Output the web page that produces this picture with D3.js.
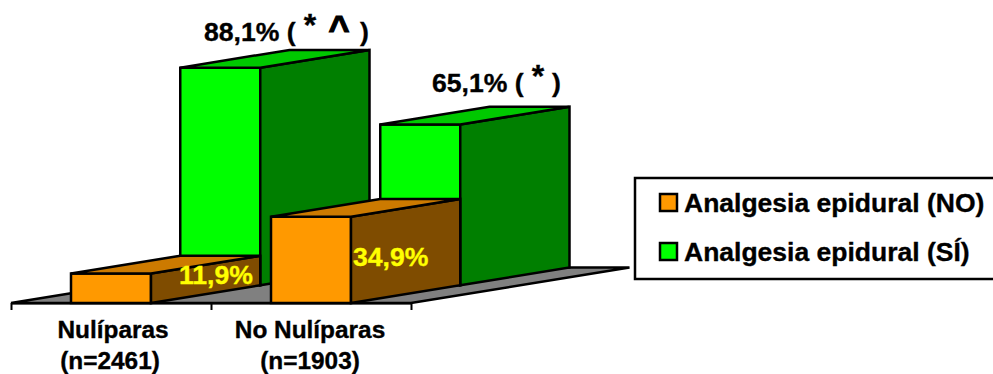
<!DOCTYPE html>
<html lang="es">
<head>
<meta charset="utf-8">
<script src="https://cdn.jsdelivr.net/npm/d3@7/dist/d3.min.js"></script>
<style>
html,body{margin:0;padding:0;background:#fff;overflow:hidden}
text{font-family:"Liberation Sans",Arial,sans-serif;font-weight:bold;fill:#000;stroke:#000;stroke-width:.35px}
text.value-in{stroke:#FFFF00}
</style>
</head>
<body>
<svg id="chart" width="993" height="374"></svg>
<script>
const categories = ["Nulíparas", "No Nulíparas"];
const sampleSizes = ["(n=2461)", "(n=1903)"];
const seriesNames = ["Analgesia epidural (NO)", "Analgesia epidural (SÍ)"];
const epiduralNo = [11.9, 34.9];
const epiduralYes = [88.1, 65.1];
const labelsNo = ["11,9%", "34,9%"];
const labelsYes = ["88,1%", "65,1%"];
const marksYes = [["*", "^"], ["*"]];

const palette = {
  no:  {front: "#FF9900", side: "#7F4C00", top: "#CC7A00"},
  yes: {front: "#00FF00", side: "#007F00", top: "#00C800"}
};

const svg = d3.select("#chart");
const floorY = 303;

const x = d3.scaleBand().domain(categories).range([11, 411]).paddingInner(0.6).paddingOuter(0.3);
const h = d3.scaleLinear().domain([0, 100]).range([0, 247]);
// Oblique projection of the depth axis: rows 0..2 from the front of the floor to the back.
const depthX = d3.scaleLinear().domain([0, 2]).range([0, 218.5]);
const depthY = d3.scaleLinear().domain([0, 2]).range([0, -35.5]);

const project = (px, value, row) => [px + depthX(row), floorY - h(value) + depthY(row)];
const stroke = sel => sel.attr("stroke", "#000").attr("stroke-width", 2.5).attr("stroke-linejoin", "miter");
const poly = (g, pts, fill) => g.append("polygon")
  .attr("points", pts.map(p => p.join(",")).join(" ")).attr("fill", fill).call(stroke);

// Floor plane
const [x0, x1] = x.range();
poly(svg.append("g"), [project(x0, 0, 0), project(x1, 0, 0), project(x1, 0, 2), project(x0, 0, 2)], "#808080");

function drawBar(g, cat, value, row, colors) {
  const l = x(cat), r = l + x.bandwidth();
  poly(g, [project(l, value, row), project(r, value, row), project(r, 0, row), project(l, 0, row)], colors.front);
  poly(g, [project(r, value, row), project(r, value, row + 1), project(r, 0, row + 1), project(r, 0, row)], colors.side);
  poly(g, [project(l, value, row), project(l, value, row + 1), project(r, value, row + 1), project(r, value, row)], colors.top);
}

const bars = svg.append("g");
categories.forEach((c, i) => drawBar(bars, c, epiduralYes[i], 1, palette.yes));
categories.forEach((c, i) => drawBar(bars, c, epiduralNo[i], 0, palette.no));

// Category axis: ticks mark the group boundaries along the front floor edge
const tickScale = d3.scaleLinear().domain([0, categories.length]).range(x.range());
const axis = svg.append("g").attr("transform", `translate(0,${floorY})`)
  .call(d3.axisBottom(tickScale).tickValues(d3.range(categories.length + 1)).tickSize(7).tickSizeOuter(0).tickFormat(""));
axis.selectAll("path,line").attr("stroke", "#000").attr("stroke-width", 2);

const nudge = [3, 0];
categories.forEach((c, i) => {
  const cx = x(c) + x.bandwidth() / 2 - 1;
  svg.append("text").attr("x", cx + nudge[i]).attr("y", 338).attr("text-anchor", "middle").attr("font-size", 24.4).text(c);
  svg.append("text").attr("x", cx).attr("y", 369).attr("text-anchor", "middle").attr("font-size", 24.4).text(sampleSizes[i]);
});

// Values on the orange bars
const labelNoX = [179, 353];
const labelNoY = [284, 266];
labelsNo.forEach((t, i) => svg.append("text").attr("class", "value-in").attr("x", labelNoX[i]).attr("y", labelNoY[i])
  .attr("font-size", 26.6).style("fill", "#FFFF00").text(t));

// Values above the green bars, with significance marks raised
const labelYesX = [204, 432];
const labelYesY = [41, 92];
const closeX = [360, 552];
labelsYes.forEach((t, i) => {
  svg.append("text").attr("x", labelYesX[i]).attr("y", labelYesY[i]).attr("font-size", 26.6).text(`${t} (`);
  svg.append("text").attr("x", closeX[i]).attr("y", labelYesY[i]).attr("font-size", 26.6).text(")");
});
const markX = [[310, 339], [538]];
const markY = [[36, 41], [87]];
const markSize = [[32, 36], [32]];
marksYes.forEach((ms, i) => ms.forEach((m, j) => svg.append("text")
  .attr("x", markX[i][j]).attr("y", markY[i][j])
  .attr("text-anchor", "middle").attr("font-size", markSize[i][j]).style("stroke-width", m === "^" ? "1.2px" : null).text(m)));

// Legend
const legend = svg.append("g");
legend.append("rect").attr("x", 635).attr("y", 178).attr("width", 370).attr("height", 101)
  .attr("fill", "#fff").call(stroke);
const legendColors = [palette.no.front, palette.yes.front];
const legendY = [194, 243];
seriesNames.forEach((name, i) => {
  legend.append("rect").attr("x", 660).attr("y", legendY[i]).attr("width", 17).attr("height", 17)
    .attr("fill", legendColors[i]).call(stroke);
  legend.append("text").attr("x", 684).attr("y", legendY[i] + 17.5).attr("font-size", 26.5).text(name);
});
</script>
</body>
</html>
